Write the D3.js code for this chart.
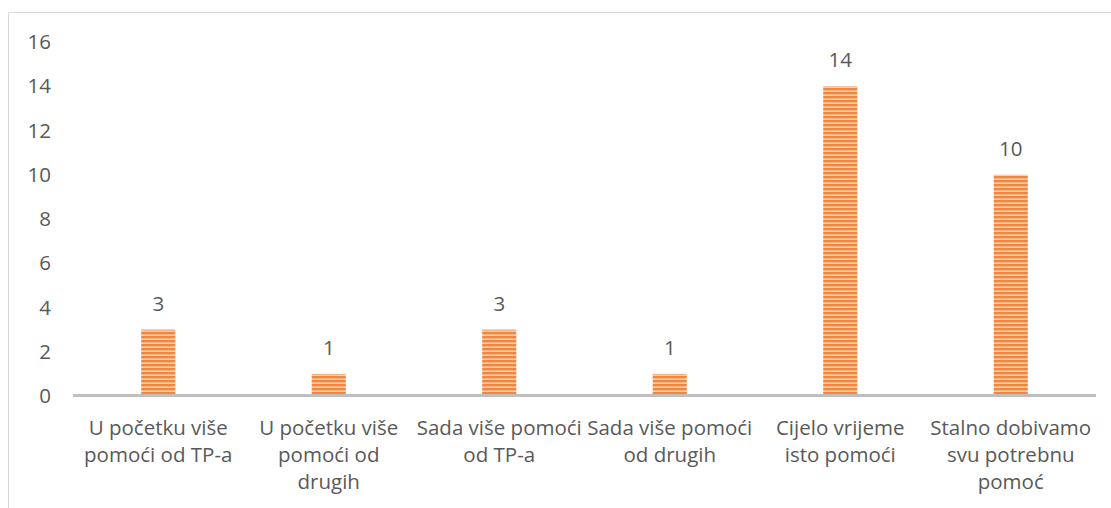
<!DOCTYPE html>
<html>
<head>
<meta charset="utf-8">
<script src="https://cdn.jsdelivr.net/npm/d3@7"></script>
<style>
  body { margin: 0; background: #fff; }
  text { font-family: "Open Sans", Lato, sans-serif; fill: #595959; }
</style>
</head>
<body>
<svg id="chart" width="1111" height="508"></svg>
<script>
const categories = [
  ["U početku više", "pomoći od TP-a"],
  ["U početku više", "pomoći od", "drugih"],
  ["Sada više pomoći", "od TP-a"],
  ["Sada više pomoći", "od drugih"],
  ["Cijelo vrijeme", "isto pomoći"],
  ["Stalno dobivamo", "svu potrebnu", "pomoć"]
];
const values = [3, 1, 3, 1, 14, 10];
const yTicks = [0, 2, 4, 6, 8, 10, 12, 14, 16];

const width = 1111;
const height = 508;
const margin = { left: 73, right: 15, top: 42, bottom: 112 };
const fontSize = "20.5px";

const svg = d3.select("#chart");

// striped fill like the original
const defs = svg.append("defs");
const pat = defs.append("pattern")
  .attr("id", "stripes")
  .attr("patternUnits", "userSpaceOnUse")
  .attr("width", 8)
  .attr("height", 4);
pat.append("rect").attr("width", 8).attr("height", 4).attr("fill", "#f9cfb0");
pat.append("rect").attr("width", 8).attr("height", 2.4).attr("fill", "#f0863f");

// outer border
svg.append("path")
  .attr("d", `M8.5,${height} V12.5 H${width}`)
  .attr("fill", "none")
  .attr("stroke", "#d9d9d9")
  .attr("stroke-width", 1);

const x = d3.scaleBand()
  .domain(d3.range(categories.length))
  .range([margin.left, 1096])
  .paddingInner(0.8)
  .paddingOuter(0.4);

const y = d3.scaleLinear()
  .domain([0, 16])
  .range([396, margin.top]);

// y tick labels
const yAxis = svg.append("g")
  .attr("transform", "translate(51,0)")
  .call(d3.axisLeft(y).tickValues(yTicks).tickSize(0).tickPadding(0));
yAxis.select(".domain").remove();
yAxis.selectAll("text")
  .style("font-size", fontSize)
  .attr("fill", "#595959");

// bars
svg.append("g")
  .selectAll("rect")
  .data(values)
  .join("rect")
  .attr("x", (d, i) => x(i))
  .attr("y", (d) => y(d))
  .attr("width", x.bandwidth())
  .attr("height", (d) => y(0) - y(d))
  .attr("fill", "url(#stripes)");

// x axis line
svg.append("line")
  .attr("x1", margin.left)
  .attr("x2", 1096)
  .attr("y1", 395.5)
  .attr("y2", 395.5)
  .attr("stroke", "#bfbfbf")
  .attr("stroke-width", 3);

// value labels
svg.append("g")
  .selectAll("text")
  .data(values)
  .join("text")
  .attr("x", (d, i) => x(i) + x.bandwidth() / 2)
  .attr("y", (d) => y(d) - 19)
  .attr("text-anchor", "middle")
  .style("font-size", fontSize)
  .text((d) => d);

// category labels
svg.append("g")
  .selectAll("text")
  .data(categories)
  .join("text")
  .attr("text-anchor", "middle")
  .style("font-size", fontSize)
  .each(function (lines, i) {
    const t = d3.select(this);
    lines.forEach((ln, j) => {
      t.append("tspan")
        .attr("x", x(i) + x.bandwidth() / 2)
        .attr("y", 435 + j * 27)
        .text(ln);
    });
  });
</script>
</body>
</html>
